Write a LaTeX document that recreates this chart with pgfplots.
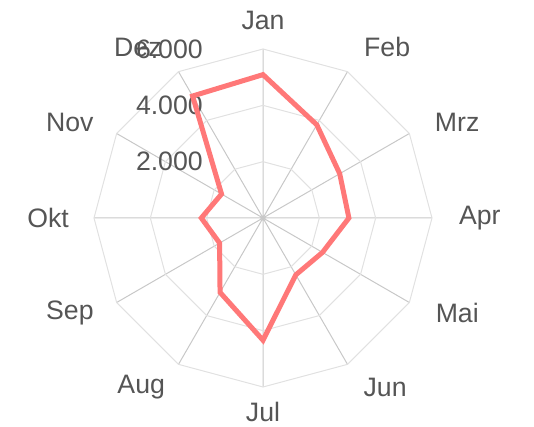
\documentclass[border=0pt]{standalone}
\usepackage{pgfplots}
\pgfplotsset{compat=1.18}
\usepgfplotslibrary{polar}
\usepackage{fontspec}
\setmainfont{Liberation Sans}
\definecolor{linered}{RGB}{255,120,120}
\definecolor{spoke}{RGB}{200,200,200}
\definecolor{ring}{RGB}{225,225,225}
\definecolor{lbl}{RGB}{85,85,85}
\tikzset{lab/.style={font=\fontsize{20}{24}\selectfont, text=lbl, inner sep=0pt}}
\begin{document}
\begin{tikzpicture}
\begin{polaraxis}[
  scale only axis, width=253.5pt, height=253.5pt,
  ymin=0, ymax=6000,
  xtick={0,30,...,330}, xticklabels={},
  ytick={2000,4000,6000}, yticklabels={},
  xmajorgrids, major grid style={spoke, line width=0.75pt},
  ymajorgrids=false,
  axis line style={draw=none},
  xtick style={draw=none}, ytick style={draw=none},
  clip=false,
]
% grid rings (polygons)
\addplot[ring, line width=0.75pt, no markers] coordinates {(0,2000)(30,2000)(60,2000)(90,2000)(120,2000)(150,2000)(180,2000)(210,2000)(240,2000)(270,2000)(300,2000)(330,2000)(360,2000)};
\addplot[ring, line width=0.75pt, no markers] coordinates {(0,4000)(30,4000)(60,4000)(90,4000)(120,4000)(150,4000)(180,4000)(210,4000)(240,4000)(270,4000)(300,4000)(330,4000)(360,4000)};
\addplot[ring, line width=0.75pt, no markers] coordinates {(0,6000)(30,6000)(60,6000)(90,6000)(120,6000)(150,6000)(180,6000)(210,6000)(240,6000)(270,6000)(300,6000)(330,6000)(360,6000)};
% month labels
\node[lab] at (axis cs:90,7030) {Jan};
\node[lab] at (axis cs:54,7500) {Feb};
\node[lab] at (axis cs:26.3,7690) {Mrz};
\node[lab] at (axis cs:0,7700) {Apr};
\node[lab] at (axis cs:-26.1,7680) {Mai};
\node[lab] at (axis cs:-54.3,7430) {Jun};
\node[lab] at (axis cs:-90,6890) {Jul};
\node[lab] at (axis cs:234.3,7410) {Aug};
\node[lab] at (axis cs:206.2,7640) {Sep};
\node[lab] at (axis cs:180,7630) {Okt};
\node[lab] at (axis cs:153.6,7660) {Nov};
\node[lab] at (axis cs:126.2,7520) {Dez};
% radial tick labels
\node[lab, anchor=east, xshift=-45pt] at (axis cs:90,2000) {2.000};
\node[lab, anchor=east, xshift=-45pt] at (axis cs:90,4000) {4.000};
\node[lab, anchor=east, xshift=-45pt] at (axis cs:90,6000) {6.000};
% data
\addplot[linered, line width=3.75pt, no markers, line join=miter] coordinates {
(90,5090)(60,3820)(30,3145)(0,3050)(-30,2440)(-60,2330)(-90,4340)(-120,3050)(-150,1780)(-180,2190)(-210,1700)(-240,5000)(-270,5090)(-300,3820)};
\coordinate (c) at (axis cs:0,0);
\end{polaraxis}
\pgfresetboundingbox
\useasboundingbox ([xshift=-197.25pt,yshift=-156.75pt]c) rectangle ([xshift=203.25pt,yshift=163.5pt]c);
\end{tikzpicture}
\end{document}
